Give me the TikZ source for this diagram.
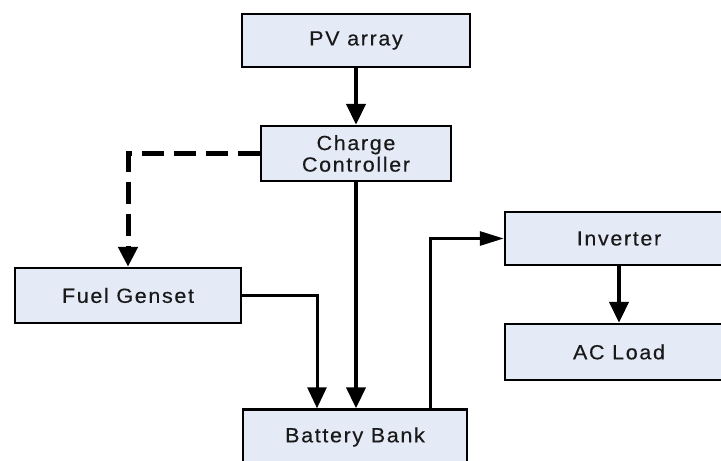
\documentclass[tikz,border=0pt]{standalone}
\usepackage{fontspec}
\setmainfont{Liberation Sans}[FakeStretch=1.05, LetterSpace=8, FakeBold=0.3]
\usetikzlibrary{arrows.meta}
\definecolor{boxfill}{RGB}{228,234,246}
\definecolor{txt}{RGB}{25,25,25}
\begin{document}
\begin{tikzpicture}[x=1pt,y=-1pt,
  blk/.style={draw=black, line width=2.5pt, fill=boxfill, inner sep=0pt,
    text=txt, font=\fontsize{20.5}{21.5}\selectfont, align=center},
  thickarrow/.style={line width=4.5pt, -{Triangle[length=21pt,width=19pt]}},
  thinarrow/.style={line width=3pt, -{Triangle[length=21pt,width=19pt]}},
  sidearrow/.style={line width=3pt, -{Triangle[length=24pt,width=14pt]}},
  dasharrow/.style={line width=5pt, dash pattern=on 22pt off 10pt, -{Triangle[length=20pt,width=19pt]}},
  plainline/.style={line width=3pt}]
\useasboundingbox (0,0) rectangle (721,461);
\clip (0,0) rectangle (721,461);
\node[blk, minimum width=228pt, minimum height=53pt] (pv) at (356,40.5) {PV array};
\node[blk, minimum width=190pt, minimum height=55pt] (cc) at (356,153.5) {Charge\\Controller};
\node[blk, minimum width=226pt, minimum height=55pt] (fg) at (128,295.5) {Fuel Genset};
\node[blk, minimum width=224pt, minimum height=55pt] (bat) at (355,437) {Battery Bank};
\node[blk, minimum width=228pt, minimum height=53pt] (inv) at (619,238.5) {Inverter};
\node[blk, minimum width=228pt, minimum height=56pt] (ac) at (619,352) {AC Load};
\draw[thickarrow] (pv.south) -- (cc.north);
\draw[thickarrow] (cc.south) -- (cc.south |- bat.north);
\draw[dasharrow] (cc.west) -| (fg.north);
\draw[thinarrow] (fg.east) -| ([xshift=-38pt]bat.north);
\draw[sidearrow] ([xshift=75pt]bat.north) |- (inv.west);
\draw[thickarrow] (inv.south) -- (inv.south |- ac.north);
\end{tikzpicture}
\end{document}
